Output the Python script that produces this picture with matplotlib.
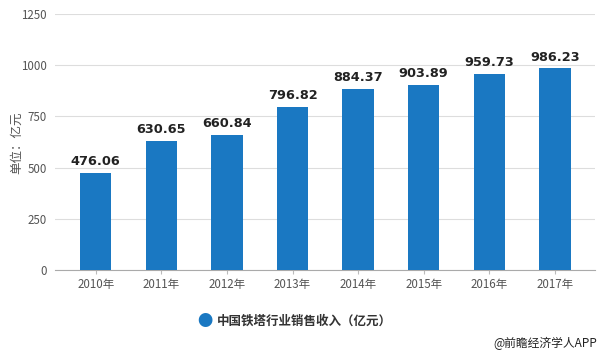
import matplotlib.pyplot as plt

plt.rcParams['font.family'] = ['Noto Sans CJK SC', 'DejaVu Sans']

years = ['2010年', '2011年', '2012年', '2013年', '2014年', '2015年', '2016年', '2017年']
revenue = [476.06, 630.65, 660.84, 796.82, 884.37, 903.89, 959.73, 986.23]
series_name = '中国铁塔行业销售收入（亿元）'
yticks = [0, 250, 500, 750, 1000, 1250]

bar_color = '#1a78c2'

fig = plt.figure(figsize=(6, 3.53), dpi=100)
ax = fig.add_axes([55 / 600, 0.235, 540 / 600, 0.725])

x = list(range(len(years)))
ax.bar(x, revenue, width=0.48, color=bar_color, zorder=3)
for xi, v in zip(x, revenue):
    ax.text(xi, v + 22, f'{v:.2f}', ha='center', va='bottom',
            fontsize=9.3, fontweight='bold', color='#222222', family='DejaVu Sans')

ax.set_xlim(-0.62, 7.61)
ax.set_ylim(0, 1250)
ax.set_yticks(yticks)
ax.set_yticklabels([str(t) for t in yticks], fontsize=8.3, color='#555555')
ax.set_xticks(x)
ax.set_xticklabels(years, fontsize=8.3, color='#555555')
ax.tick_params(axis='x', length=3, color='#bbbbbb', pad=3)
ax.tick_params(axis='y', length=0, pad=6)
ax.grid(axis='y', color='#dddddd', linewidth=0.8, zorder=0)
for s in ['top', 'right', 'left']:
    ax.spines[s].set_visible(False)
ax.spines['bottom'].set_color('#aaaaaa')

# y 轴单位
fig.text(17 / 600, 1 - 143 / 353, '单位：亿元', rotation=90, fontsize=9,
         color='#555555', ha='center', va='center')

fig.text(0.341, 0.09, '●', color=bar_color, fontsize=11, ha='center', va='center')
fig.text(0.362, 0.09, series_name, fontsize=9, fontweight='bold',
         color='#333333', ha='left', va='center')
fig.text(0.995, 0.028, '@前瞻经济学人APP', fontsize=8.5, color='#222222',
         ha='right', va='center')

fig.savefig('out.png', dpi=100)
